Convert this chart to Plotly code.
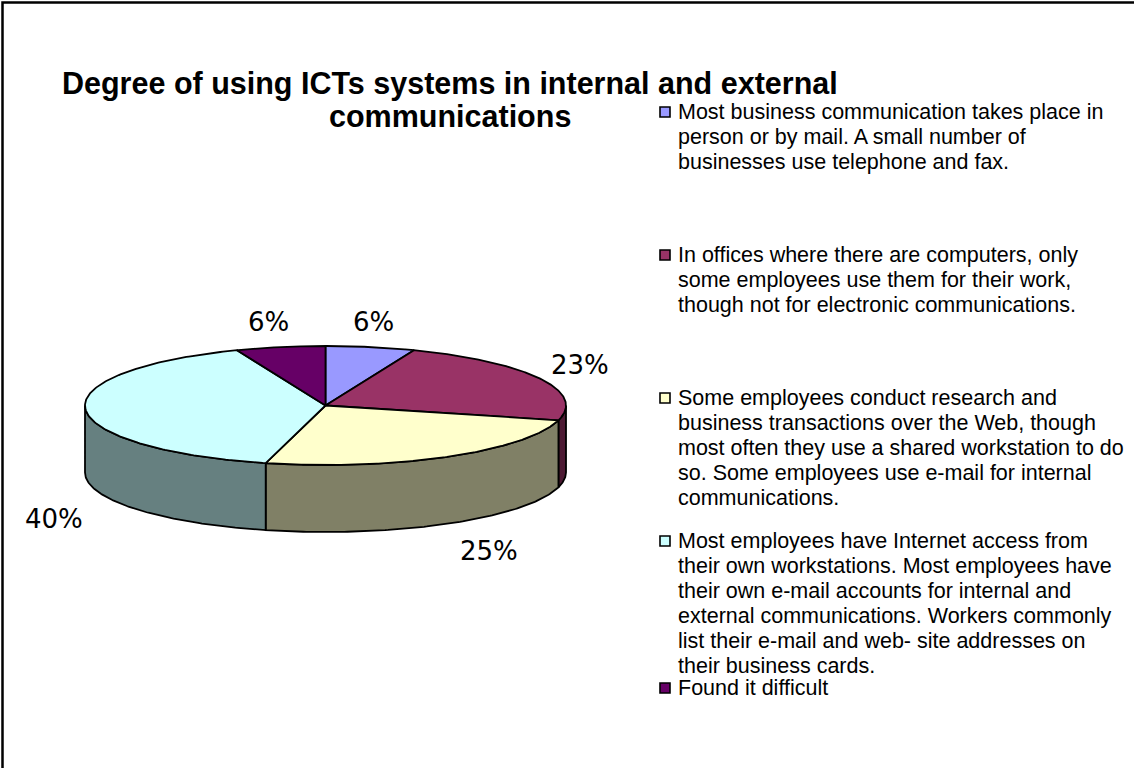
import numpy as np
import plotly.graph_objects as go

# ---- data -------------------------------------------------------------
categories = [
    "Most business communication takes place in\nperson or by mail. A small number of\nbusinesses use telephone and fax.",
    "In offices where there are computers, only\nsome employees use them for their work,\nthough not for electronic communications.",
    "Some employees conduct research and\nbusiness transactions over the Web, though\nmost often they use a shared workstation to do\nso. Some employees use e-mail for internal\ncommunications.",
    "Most employees have Internet access from\ntheir own workstations. Most employees have\ntheir own e-mail accounts for internal and\nexternal communications. Workers commonly\nlist their e-mail and web- site addresses on\ntheir business cards.",
    "Found it difficult",
]
values = [6, 23, 25, 40, 6]
title_lines = ["Degree of using ICTs systems in internal and external", "communications"]

# ---- styling ----------------------------------------------------------
top_colors = ["#9999FF", "#993366", "#FFFFCC", "#CCFFFF", "#660066"]
side_colors = ["#4D4D80", "#4D1A33", "#808066", "#668080", "#330033"]

W, H = 1134, 768
cx, cy, rx, ry, depth = 325.5, 405.5, 240.5, 59.5, 67

label_pos = [(373, 322), (580, 365), (489, 551), (54, 519), (268, 322)]
legend_key_x, legend_text_x = 665, 676
legend_first_y = [112, 255, 398, 541, 688]
legend_line_h = 25


def ellipse(t_deg, dy=0.0):
    t = np.radians(t_deg)
    return cx + rx * np.sin(t), cy - ry * np.cos(t) + dy


fig = go.Figure()

total = float(sum(values))
bounds = np.concatenate([[0.0], np.cumsum(values) / total * 360.0])

# side walls (front half of the disc only: 90..270 degrees clockwise from top)
for i in range(len(values)):
    a0, a1 = max(bounds[i], 90.0), min(bounds[i + 1], 270.0)
    if a1 <= a0:
        continue
    t = np.linspace(a0, a1, 120)
    xt, yt = ellipse(t)
    xb, yb = ellipse(t[::-1], depth)
    xs = np.concatenate([xt, xb, xt[:1]])
    ys = np.concatenate([yt, yb, yt[:1]])
    fig.add_trace(go.Scatter(x=xs, y=ys, mode="lines", fill="toself",
                             fillcolor=side_colors[i],
                             line=dict(color="black", width=1.8),
                             hoverinfo="skip", showlegend=False))

# top faces
for i in range(len(values)):
    t = np.linspace(bounds[i], bounds[i + 1], 200)
    xa, ya = ellipse(t)
    xs = np.concatenate([[cx], xa, [cx]])
    ys = np.concatenate([[cy], ya, [cy]])
    fig.add_trace(go.Scatter(x=xs, y=ys, mode="lines", fill="toself",
                             fillcolor=top_colors[i],
                             line=dict(color="black", width=1.8),
                             hoverinfo="skip", showlegend=False))

annotations = []

# percentage labels
for v, (lx, ly) in zip(values, label_pos):
    annotations.append(dict(x=lx, y=ly, text=f"{v}%", showarrow=False,
                            xanchor="center", yanchor="middle",
                            font=dict(family="DejaVu Sans", size=26, color="black")))

# legend keys
fig.add_trace(go.Scatter(
    x=[legend_key_x] * len(values), y=legend_first_y, mode="markers",
    marker=dict(symbol="square", size=10, color=top_colors,
                line=dict(color="black", width=1.6)),
    hoverinfo="skip", showlegend=False))

# legend text, one annotation per line
for cat, y0 in zip(categories, legend_first_y):
    for k, line in enumerate(cat.split("\n")):
        annotations.append(dict(x=legend_text_x, y=y0 + k * legend_line_h, text=line,
                                showarrow=False, xanchor="left", yanchor="middle",
                                font=dict(family="Liberation Sans, Arial", size=21.5,
                                          color="black")))

# title
for k, line in enumerate(title_lines):
    annotations.append(dict(x=450, y=83 + k * 33, text=f"<b>{line}</b>", showarrow=False,
                            xanchor="center", yanchor="middle",
                            font=dict(family="Liberation Sans, Arial", size=30.5,
                                      color="black")))

fig.update_layout(
    width=W, height=H,
    margin=dict(l=0, r=0, t=0, b=0),
    paper_bgcolor="white", plot_bgcolor="white",
    xaxis=dict(range=[0, W], visible=False, fixedrange=True),
    yaxis=dict(range=[H, 0], visible=False, fixedrange=True),
    annotations=annotations,
    shapes=[dict(type="rect", xref="x", yref="y", x0=2.5, y0=2.5, x1=W + 20, y1=H + 20,
                 line=dict(color="black", width=2.5), fillcolor="rgba(0,0,0,0)",
                 layer="above")],
)

fig.write_html("out.html")
